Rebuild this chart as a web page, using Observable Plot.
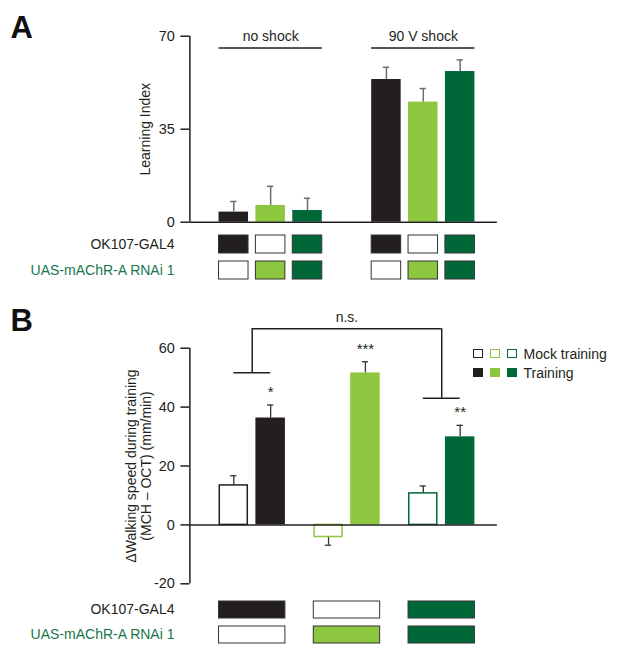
<!DOCTYPE html>
<html>
<head>
<meta charset="utf-8">
<script src="https://cdn.jsdelivr.net/npm/d3@7"></script>
<script src="https://cdn.jsdelivr.net/npm/@observablehq/plot@0.6"></script>
<style>
  body { margin: 0; background: #fff; }
  #fig { position: relative; width: 617px; height: 660px; font-family: "Liberation Sans", Arial, Helvetica, sans-serif; color: #231f20; }
  #fig svg { position: absolute; left: 0; top: 0; }
  .legend { position: absolute; left: 473px; font-size: 14px; line-height: 1; }
  .legend .row { position: absolute; left: 0; white-space: nowrap; }
  .sw { position: absolute; width: 9.5px; height: 9px; box-sizing: border-box; }
  .legend .lab { position: absolute; left: 50.5px; top: -2px; }
</style>
</head>
<body>
<div id="fig"></div>
<script>
// ---------------- data ----------------
const genotypes = ["OK107-GAL4/+", "UAS-mAChR-A RNAi 1/+", "OK107-GAL4 > UAS-mAChR-A RNAi 1"];
const genotypeColors = ["#231f20", "#8dc63f", "#006838"];
const hasGal4 = [true, false, true];
const hasUAS = [false, true, true];
const rowLabels = ["OK107-GAL4", "UAS-mAChR-A RNAi 1"];
const rowLabelColors = ["#231f20", "#17774a"];

// Panel A
const shockConditions = ["no shock", "90 V shock"];
const learningIndex = [[3.8, 6.3, 4.4], [53.7, 45.2, 56.7]];
const learningSEM = [[4.0, 7.2, 4.6], [4.6, 5.1, 4.4]];
const learningTicks = [0, 35, 70];
const learningLabel = "Learning Index";

// Panel B
const trainingConditions = ["Mock training", "Training"];
const walkMock = [13.4, -4.1, 10.7];
const walkMockSEM = [3.3, 2.8, 2.5];
const walkTraining = [36.3, 51.6, 29.9];
const walkTrainingSEM = [4.4, 3.8, 3.9];
const significance = ["*", "***", "**"];
const walkTicks = [-20, 0, 20, 40, 60];
const walkLabel = "\u0394Walking speed during training\n(MCH \u2013 OCT) (mm/min)";
const comparisonLabel = "n.s.";
const bracketLevels = [51.7, 66.6, 43.0]; // left arm, top, right arm (in y units)

// ---------------- layout ----------------
const W = 617, H = 660;
const FONT = '"Liberation Sans", Arial, Helvetica, sans-serif';
const INK = "#231f20";
const xDomain = [-0.79, 7.55];
const mLeft = 189.4, mRight = W - 496.9;
const barW = 0.8;
const aOffset = [0, 4.14];
const bOffset = [0, 2.57, 5.14];
const fig = document.getElementById("fig");
const baseStyle = {background: "transparent", overflow: "visible", fontFamily: FONT, fontSize: "14px", color: INK};

// ---------------- Panel A chart ----------------
const barsA = shockConditions.flatMap((c, k) => genotypes.map((g, i) => ({
  cond: c, geno: g, gi: i, x1: aOffset[k] + i, value: learningIndex[k][i], sem: learningSEM[k][i], color: genotypeColors[i]
})));
const groupsA = shockConditions.map((c, k) => ({label: c, x1: aOffset[k], x2: aOffset[k] + 2 + barW}));

const plotA = Plot.plot({
  width: W, height: H,
  marginLeft: mLeft, marginRight: mRight, marginTop: 35.7, marginBottom: H - 221.7,
  style: baseStyle,
  x: {domain: xDomain, axis: null},
  y: {domain: [0, 70], axis: null, label: null},
  color: {type: "identity"},
  marks: [
    Plot.rectY(barsA, {x1: "x1", x2: d => d.x1 + barW, y1: 0, y2: "value", fill: "color"}),
    Plot.ruleX(barsA, {x: d => d.x1 + barW / 2, y1: "value", y2: d => d.value + d.sem, stroke: "#6d6e71", strokeWidth: 1.5}),
    Plot.ruleY(barsA, {y: d => d.value + d.sem, x1: d => d.x1 + barW / 2 - 0.085, x2: d => d.x1 + barW / 2 + 0.085, stroke: "#6d6e71", strokeWidth: 1.5}),
    Plot.ruleY([0], {stroke: INK, strokeWidth: 1.5}),
    Plot.ruleX([xDomain[0]], {y1: 0, y2: 70, stroke: INK, strokeWidth: 1.5}),
    Plot.axisY({ticks: learningTicks, tickFormat: d => String(d), tickSize: 9, tickPadding: 6, fontSize: 14.5, strokeWidth: 1.5, color: INK, label: null}),
    Plot.text([learningLabel], {frameAnchor: "left", textAnchor: "middle", rotate: -90, dx: -44.4, fontSize: 14, fill: INK}),
    Plot.ruleY(groupsA, {y: 65.6, x1: "x1", x2: "x2", stroke: INK, strokeWidth: 1.5}),
    Plot.text(groupsA, {x: d => (d.x1 + d.x2) / 2, y: 70, text: "label", fontSize: 14, fill: INK})
  ]
});
fig.appendChild(plotA);

// ---------------- genotype grids ----------------
// columns: [{x1, x2, gi}] — which genotype each column stands for
function genotypeGrid(columns, top, bottom) {
  const cells = columns.flatMap(col => rowLabels.map((r, j) => ({
    row: r,
    x1: col.x1,
    x2: col.x2,
    fill: (j === 0 ? hasGal4[col.gi] : hasUAS[col.gi]) ? genotypeColors[col.gi] : "white"
  })));
  return Plot.plot({
    width: W, height: H,
    marginLeft: mLeft, marginRight: mRight, marginTop: top, marginBottom: H - bottom,
    style: baseStyle,
    x: {domain: xDomain, axis: null},
    y: {type: "band", domain: rowLabels, paddingInner: 0.32, paddingOuter: 0, axis: null, label: null},
    color: {type: "identity"},
    marks: [
      Plot.barX(cells, {x1: "x1", x2: "x2", y: "row", fill: "fill", stroke: "#333333", strokeWidth: 1, inset: 0}),
      Plot.text(rowLabels, {y: d => d, frameAnchor: "left", textAnchor: "end", dx: -15.4, fontSize: 14, fill: (d, i) => rowLabelColors[i]})
    ]
  });
}
// panel A: one box per bar
fig.appendChild(genotypeGrid(barsA.map(d => ({x1: d.x1, x2: d.x1 + barW, gi: d.gi})), 235.3, 279));

// ---------------- Panel B chart ----------------
const barsB = genotypes.flatMap((g, k) => [
  {geno: g, cond: trainingConditions[0], x1: bOffset[k], value: walkMock[k], sem: walkMockSEM[k], color: genotypeColors[k], mock: true},
  {geno: g, cond: trainingConditions[1], x1: bOffset[k] + 1, value: walkTraining[k], sem: walkTrainingSEM[k], color: genotypeColors[k], mock: false, star: significance[k]}
]);
const errEnd = d => d.value + Math.sign(d.value) * d.sem;
const trainB = barsB.filter(d => !d.mock);
const leftMid = bOffset[0] + 0.5 + barW / 2, rightMid = bOffset[2] + 0.5 + barW / 2;
const bracketH = [
  {x1: bOffset[0] + barW / 2, x2: bOffset[0] + 1 + barW / 2, y: bracketLevels[0]},
  {x1: leftMid, x2: rightMid, y: bracketLevels[1]},
  {x1: bOffset[2] + barW / 2, x2: bOffset[2] + 1 + barW / 2, y: bracketLevels[2]}
];
const bracketV = [
  {x: leftMid, y1: bracketLevels[0], y2: bracketLevels[1]},
  {x: rightMid, y1: bracketLevels[2], y2: bracketLevels[1]}
];

const plotB = Plot.plot({
  width: W, height: H,
  marginLeft: mLeft, marginRight: mRight, marginTop: 347.7, marginBottom: H - 583.3,
  style: baseStyle,
  x: {domain: xDomain, axis: null},
  y: {domain: [-20, 60], axis: null, label: null},
  color: {type: "identity"},
  marks: [
    Plot.ruleX(barsB, {x: d => d.x1 + barW / 2, y1: "value", y2: errEnd, stroke: "#333333", strokeWidth: 1.3}),
    Plot.ruleY(barsB, {y: errEnd, x1: d => d.x1 + barW / 2 - 0.085, x2: d => d.x1 + barW / 2 + 0.085, stroke: "#333333", strokeWidth: 1.3}),
    Plot.rectY(barsB, {x1: d => d.mock ? d.x1 + 0.02 : d.x1, x2: d => d.mock ? d.x1 + barW - 0.02 : d.x1 + barW, y1: 0, y2: "value",
      fill: d => d.mock ? "white" : d.color, stroke: d => d.mock ? d.color : "none", strokeWidth: 1.5}),
    Plot.ruleY([0], {stroke: INK, strokeWidth: 1.5}),
    Plot.ruleX([xDomain[0]], {y1: -20, y2: 60, stroke: INK, strokeWidth: 1.5}),
    Plot.axisY({ticks: walkTicks, tickFormat: d => String(d), tickSize: 9, tickPadding: 6, fontSize: 14.5, strokeWidth: 1.5, color: INK, label: null}),
    Plot.text([walkLabel], {frameAnchor: "left", textAnchor: "middle", rotate: -90, dx: -50.9, fontSize: 14, lineHeight: 1.07, fill: INK}),
    Plot.text(trainB, {x: d => d.x1 + barW / 2, y: errEnd, text: "star", dy: -13, fontSize: 15, fill: INK}),
    Plot.ruleY(bracketH, {x1: "x1", x2: "x2", y: "y", stroke: INK, strokeWidth: 1.5}),
    Plot.ruleX(bracketV, {x: "x", y1: "y1", y2: "y2", stroke: INK, strokeWidth: 1.5}),
    Plot.text([comparisonLabel], {x: (leftMid + rightMid) / 2, y: bracketLevels[1], dy: -11.5, fontSize: 14, fill: INK})
  ]
});
fig.appendChild(plotB);

// panel B: one wide box per genotype
fig.appendChild(genotypeGrid(genotypes.map((g, k) => ({x1: bOffset[k], x2: bOffset[k] + 1 + barW, gi: k})), 600, 643.3));

// ---------------- legend (HTML) ----------------
const legend = document.createElement("div");
legend.className = "legend";
legend.style.top = "349px";
trainingConditions.forEach((cond, r) => {
  const row = document.createElement("div");
  row.className = "row";
  row.style.top = (r * 18.7) + "px";
  genotypeColors.forEach((c, i) => {
    const sw = document.createElement("div");
    sw.className = "sw";
    sw.style.left = (i * 17) + "px";
    if (r === 0) { sw.style.border = "1.3px solid " + c; sw.style.background = "white"; }
    else { sw.style.background = c; }
    row.appendChild(sw);
  });
  const lab = document.createElement("div");
  lab.className = "lab";
  lab.textContent = cond;
  row.appendChild(lab);
  legend.appendChild(row);
});
fig.appendChild(legend);

// ---------------- panel letters ----------------
const letters = d3.create("svg").attr("width", W).attr("height", H).style("overflow", "visible");
letters.selectAll("text").data([{t: "A", y: 38}, {t: "B", y: 331}]).join("text")
  .attr("x", 10.5).attr("y", d => d.y).text(d => d.t)
  .attr("font-family", FONT).attr("font-weight", "bold").attr("font-size", 31).attr("fill", "#111");
fig.appendChild(letters.node());
</script>
</body>
</html>
